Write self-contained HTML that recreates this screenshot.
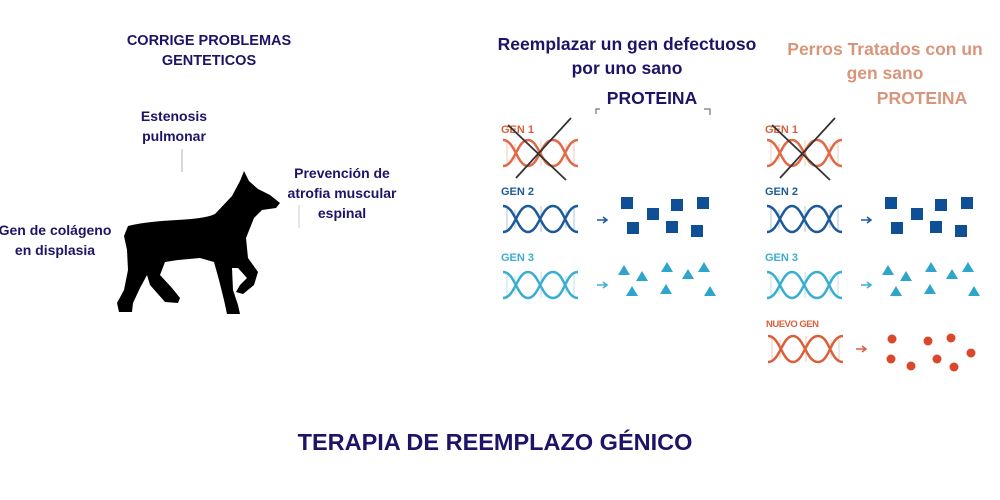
<!DOCTYPE html>
<html><head><meta charset="utf-8"><style>
html,body{margin:0;padding:0;background:#fff;width:1000px;height:500px;overflow:hidden}
svg{display:block}
text{font-family:"Liberation Sans",sans-serif;font-weight:bold}
</style></head><body>
<svg width="1000" height="500" viewBox="0 0 1000 500" xmlns="http://www.w3.org/2000/svg">
<defs>
<g id="hx">
<g stroke-width="1" opacity="0.35">
<line x1="4" y1="3" x2="4" y2="27"/><line x1="12" y1="6" x2="12" y2="24"/><line x1="38" y1="2" x2="38" y2="28"/><line x1="63" y1="6" x2="63" y2="24"/><line x1="71" y1="3" x2="71" y2="27"/>
</g>
<path d="M0,2 C12,2 14,28 25,28 S38,2 50,2 S62,28 75,28" fill="none" stroke-width="2.5"/>
<path d="M0,28 C12,28 14,2 25,2 S38,28 50,28 S62,2 75,2" fill="none" stroke-width="2.5"/>
</g>
<g id="panel">
<text x="0" y="133" font-size="11" fill="#d9603a">GEN 1</text>
<g stroke="#e06a45" fill="none"><use href="#hx" x="2" y="138"/></g>
<line x1="7" y1="125" x2="65" y2="180" stroke="#333" stroke-width="1.8"/>
<line x1="70" y1="118" x2="15" y2="178" stroke="#333" stroke-width="1.8"/>
<text x="0" y="195" font-size="11" fill="#1d5a99">GEN 2</text>
<g stroke="#1d5a99"><use href="#hx" x="2" y="204"/></g>
<path d="M96,220 h10 m-4,-3 l4,3 l-4,3" stroke="#1d5a99" stroke-width="1.5" fill="none"/>
<g fill="#0f4f96">
<rect x="120" y="197" width="12" height="12"/><rect x="146" y="208" width="12" height="12"/><rect x="170" y="199" width="12" height="12"/><rect x="196" y="197" width="12" height="12"/>
<rect x="126" y="222" width="12" height="12"/><rect x="165" y="221" width="12" height="12"/><rect x="190" y="225" width="12" height="12"/>
</g>
<text x="0" y="261" font-size="11" fill="#3aaed0">GEN 3</text>
<g stroke="#3aaed0"><use href="#hx" x="2" y="270"/></g>
<path d="M96,285 h10 m-4,-3 l4,3 l-4,3" stroke="#3aaed0" stroke-width="1.5" fill="none"/>
<g fill="#2ea6cc">
<path d="M117,275 l6,-10 l6,10z"/><path d="M135,281 l6,-10 l6,10z"/><path d="M160,272 l6,-10 l6,10z"/><path d="M181,279 l6,-10 l6,10z"/><path d="M197,272 l6,-10 l6,10z"/>
<path d="M125,296 l6,-10 l6,10z"/><path d="M159,294 l6,-10 l6,10z"/><path d="M203,296 l6,-10 l6,10z"/>
</g>
</g>
</defs>

<!-- Left texts -->
<g fill="#1c1466" text-anchor="middle" font-size="14">
<text x="209" y="45" font-size="14.5">CORRIGE PROBLEMAS</text>
<text x="209" y="65" font-size="14.5">GENTETICOS</text>
<text x="174" y="121">Estenosis</text>
<text x="174" y="141">pulmonar</text>
<text x="342" y="178">Prevención de</text>
<text x="342" y="198">atrofia muscular</text>
<text x="342" y="218">espinal</text>
<text x="55" y="235">Gen de colágeno</text>
<text x="55" y="255">en displasia</text>
</g>
<line x1="182" y1="149" x2="182" y2="172" stroke="#ccc" stroke-width="1.5"/>
<line x1="299" y1="205" x2="299" y2="228" stroke="#ddd" stroke-width="1.5"/>

<!-- Dog -->
<path fill="#000" d="M128,226 C160,218 198,222 215,214 L232,196 L240,181 L244,171 L249,181 L258,189 L270,195 L280,203 L276,208 L262,210 L254,218 L246,238 L248,258 L258,272 L254,285 L243,294 L236,292 L240,285 L247,278 L238,268 L232,268 L233,290 L238,305 L240,314 L227,314 L224,300 L219,280 L214,262 L200,258 L178,260 L165,262 L160,275 L172,288 L180,298 L178,303 L165,302 L150,285 L147,275 L140,288 L133,303 L132,312 L119,312 L117,303 L124,290 L128,270 L127,250 L124,236 Z"/>

<!-- Middle header -->
<g fill="#1c1466" text-anchor="middle" font-size="17.5">
<text x="627" y="50">Reemplazar un gen defectuoso</text>
<text x="627" y="74">por uno sano</text>
<text x="652" y="104">PROTEINA</text>
</g>
<path d="M596,114 v-5 h4 M704,109 h6 v6" stroke="#555" fill="none" stroke-width="1"/>

<!-- Right header -->
<g fill="#d9957a" text-anchor="middle" font-size="17.5">
<text x="885" y="55">Perros Tratados con un</text>
<text x="885" y="79">gen sano</text>
<text x="922" y="104">PROTEINA</text>
</g>

<use href="#panel" x="501" y="0"/>
<use href="#panel" x="765" y="0"/>

<!-- Nuevo gen -->
<text x="766" y="327" font-size="9.5" fill="#d9603a" letter-spacing="-0.5">NUEVO GEN</text>
<g stroke="#d9603a" fill="none"><use href="#hx" x="768" y="334"/></g>
<path d="M856,349 h10 m-4,-3 l4,3 l-4,3" stroke="#d9603a" stroke-width="1.5" fill="none"/>
<g fill="#d9482a">
<circle cx="892" cy="339" r="4.5"/><circle cx="928" cy="341" r="4.5"/><circle cx="951" cy="338" r="4.5"/>
<circle cx="891" cy="359" r="4.5"/><circle cx="937" cy="359" r="4.5"/><circle cx="971" cy="353" r="4.5"/>
<circle cx="911" cy="366" r="4.5"/><circle cx="954" cy="367" r="4.5"/>
</g>

<text x="495" y="450" text-anchor="middle" font-size="23.5" fill="#1c1466">TERAPIA DE REEMPLAZO GÉNICO</text>
</svg>
</body></html>
